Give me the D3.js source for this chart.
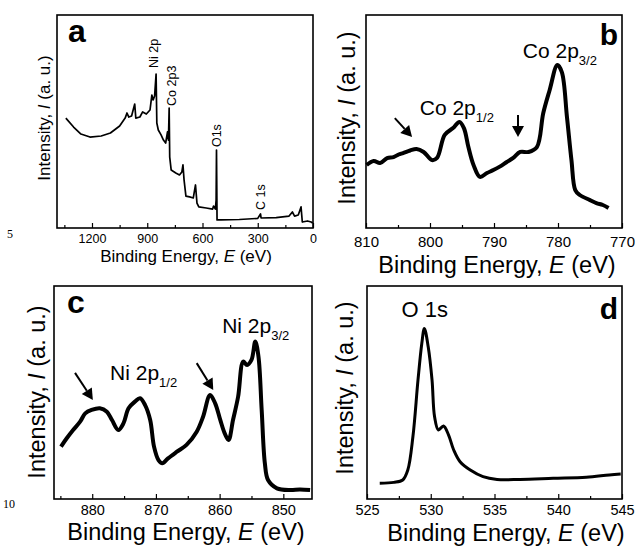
<!DOCTYPE html>
<html>
<head>
<meta charset="utf-8">
<script src="https://cdn.jsdelivr.net/npm/d3@7"></script>
<style>
  body { margin: 0; background: #fff; }
  svg { display: block; font-family: "Liberation Sans", Arial, sans-serif; }
</style>
</head>
<body>
<div id="fig"></div>
<script>
// ---- data (binding energy in eV, intensity in arb. units 0-100) ----
var surveyE = [1342,1300,1260,1211,1150,1100,1050,1020,1010,1000,985,968,962,940,925,905,885,875,868,860,852,848,840,825,812,800,790,785,781,778,770,745,725,712,706,700,690,670,650,638,630,620,580,545,540,530,526,524,521,500,400,300,285,282,200,130,112,100,80,65,58,30,10,2];
var surveyI = [51.6,47.4,44.1,42.7,43.2,44.6,47.9,51.6,54,52.1,52.6,58.2,51.6,52.1,54.5,53.5,55.4,62.4,60.1,62,72.3,49.3,46,43.7,41.3,39.9,45.1,41.3,56.3,33.3,27.2,25.8,24.9,26.3,29.6,22.5,15,14.6,14.1,20.2,11.7,9.9,9.4,8.9,10.3,8.9,13.1,36.6,3.8,3.8,4,4.5,6.6,4.7,4.9,5.6,7.5,5.6,6.1,9.9,2.8,3.3,2.8,2.3];

var coE = [809.9,808.8,807.8,806.7,805.7,804.9,804.2,803.1,802.1,801.0,799.7,798.9,797.7,796.4,795.4,794.7,794.0,793.2,792.2,791.1,790.1,789.1,788.0,787.0,785.9,784.6,783.3,782.3,781.3,780.1,779.4,778.6,777.9,777.3,776.6,775.0,774.0,773.0,772.1];
var coI = [29.6,31.5,30.5,32.8,33.3,34.5,35.2,36.4,37.1,35.7,31.9,32.9,43.7,46.9,49.8,46.9,38,29.6,24,25.8,27.2,28.8,31,32.9,35.7,35.7,38,54,64.8,76.5,73.2,52.1,31.9,17.8,15.5,13.1,11.7,10.8,9.4];

var niE = [884.9,884.0,883.0,881.9,881.1,880.1,878.8,877.7,876.9,875.9,875.1,874.3,873.3,872.5,871.7,870.9,870.3,869.6,869.0,868.1,866.7,865.2,863.6,862.6,861.5,860.7,859.9,859.2,858.6,857.9,857.1,856.3,855.7,855.0,854.4,853.9,853.4,852.9,852.4,851.0,848.9,847.4,845.8];
var niI = [24.6,28.5,32.4,36.3,40.2,41.8,42.6,41,37.1,32.4,35.5,42.6,45.7,47.3,44.1,37.1,24.6,18.3,16.8,19.1,22.2,25.4,31.6,38.6,48.8,44.9,37.1,30.8,27.7,37.1,48,64.5,62.9,65.3,73.9,66.8,41.8,16.8,8.9,5,4.2,4.5,4.2];

var oE = [526.0,527.1,527.8,528.2,528.6,529.0,529.3,529.5,529.8,530.1,530.3,530.6,531.0,531.4,531.8,532.3,533.1,534.1,535.2,537.0,539.6,542.2,544.0,544.9];
var oI = [7.4,7.8,8.9,13.6,29.2,55.9,73.1,80.1,71.5,55.9,38.6,32.4,34.3,30,23,17.5,13.6,10.5,9.2,9.2,9.7,10.2,11.3,11.7];

var surveyTicks = [1200,900,600,300,0];
var coTicks = [810,800,790,780,770];
var niTicks = [880,870,860,850];
var oTicks = [525,530,535,540,545];

var W = 635, H = 546;
var svg = d3.select("#fig").append("svg").attr("width", W).attr("height", H);

function drawPanel(p) {
  var x = d3.scaleLinear().domain(p.xDomain).range([p.left, p.right]);
  var y = d3.scaleLinear().domain([0, 100]).range([p.bottom, p.top]);
  var g = svg.append("g");

  // inward ticks, major + minor
  g.append("g")
    .attr("transform", "translate(0," + p.bottom + ")")
    .call(d3.axisBottom(x).tickValues(p.minor).tickSize(-3).tickFormat(""))
    .call(function(a){ a.select(".domain").remove(); a.selectAll("line").attr("stroke-width", 1.2); });
  var ax = g.append("g")
    .attr("transform", "translate(0," + p.bottom + ")")
    .call(d3.axisBottom(x).tickValues(p.ticks).tickSize(-5).tickPadding(p.pad).tickFormat(d3.format("d")));
  ax.select(".domain").remove();
  ax.selectAll("line").attr("stroke-width", 1.2);
  ax.selectAll("text").attr("font-size", p.tickFs).attr("font-family", "Liberation Sans, Arial, sans-serif").attr("fill", "#000");

  // curve
  var pts = p.E.map(function(e, i){ return [e, p.I[i]]; });
  g.append("path")
    .datum(pts)
    .attr("fill", "none")
    .attr("stroke", "#000")
    .attr("stroke-width", p.lw)
    .attr("stroke-linejoin", "round")
    .attr("d", d3.line().curve(p.smooth ? d3.curveCatmullRom.alpha(0.5) : d3.curveLinear)
      .x(function(d){ return x(d[0]); }).y(function(d){ return y(d[1]); }));

  // frame
  g.append("rect")
    .attr("x", p.left).attr("y", p.top)
    .attr("width", p.right - p.left).attr("height", p.bottom - p.top)
    .attr("fill", "none").attr("stroke", "#000").attr("stroke-width", 1.6);

  // axis titles
  var xt = g.append("text")
    .attr("x", p.xtX).attr("y", p.xtY)
    .attr("text-anchor", "middle").attr("font-size", p.titleFs);
  xt.append("tspan").text("Binding Energy, ");
  xt.append("tspan").attr("font-style", "italic").text("E");
  xt.append("tspan").text(" (eV)");

  var yt = g.append("text")
    .attr("transform", "translate(" + p.ytX + "," + p.ytY + ") rotate(-90)")
    .attr("text-anchor", "middle").attr("font-size", p.titleFs);
  yt.append("tspan").text("Intensity, ");
  yt.append("tspan").attr("font-style", "italic").text("I");
  yt.append("tspan").text(" (a. u.)");

  // panel letter
  g.append("text")
    .attr("x", p.letter[0]).attr("y", p.letter[1])
    .attr("text-anchor", p.letter[2])
    .attr("font-size", p.letter[3]).attr("font-weight", "bold")
    .text(p.name);

  // peak labels
  (p.labels || []).forEach(function(l){
    var t = g.append("text")
      .attr("font-size", l.fs)
      .attr("transform", "translate(" + x(l.e) + "," + y(l.v) + ")" + (l.rot ? " rotate(-90)" : ""));
    t.append("tspan").text(l.text);
    if (l.sub) t.append("tspan").attr("font-size", l.fs * 0.62).attr("dy", l.fs * 0.35).text(l.sub);
  });

  // arrows
  (p.arrows || []).forEach(function(a){
    var x0 = x(a[0]), y0 = y(a[1]), x1 = x(a[2]), y1 = y(a[3]);
    var ang = Math.atan2(y1 - y0, x1 - x0), hl = 11, hw = 6;
    var bx = x1 - hl * Math.cos(ang), by = y1 - hl * Math.sin(ang);
    g.append("line").attr("x1", x0).attr("y1", y0).attr("x2", bx).attr("y2", by)
      .attr("stroke", "#000").attr("stroke-width", 2);
    g.append("path")
      .attr("d", "M" + x1 + "," + y1 +
        "L" + (bx + hw * Math.sin(ang)) + "," + (by - hw * Math.cos(ang)) +
        "L" + (bx - hw * Math.sin(ang)) + "," + (by + hw * Math.cos(ang)) + "Z")
      .attr("fill", "#000");
  });
}

drawPanel({
  name: "a", E: surveyE, I: surveyI, xDomain: [1390, 0],
  left: 57, right: 313, top: 15, bottom: 228,
  ticks: surveyTicks, minor: [1350,1050,750,450,150], pad: 6.5, tickFs: 12.5,
  lw: 1.7, titleFs: 17, xtX: 186, xtY: 262, ytX: 50, ytY: 118,
  letter: [68, 42, "start", 32],
  labels: [
    {text: "Ni 2p", e: 839, v: 75.1, fs: 12.5, rot: true},
    {text: "Co 2p3", e: 744, v: 57.3, fs: 12.5, rot: true},
    {text: "O1s", e: 500, v: 38, fs: 12.5, rot: true},
    {text: "C 1s", e: 261, v: 8.5, fs: 12.5, rot: true}
  ]
});

drawPanel({
  name: "b", E: coE, I: coI, xDomain: [810, 770], smooth: true,
  left: 366, right: 622, top: 15, bottom: 228,
  ticks: coTicks, minor: [805,795,785,775], pad: 8.4, tickFs: 15,
  lw: 4, titleFs: 23.5, xtX: 497, xtY: 273, ytX: 355, ytY: 118,
  letter: [618, 45, "end", 30],
  labels: [
    {text: "Co 2p", sub: "1/2", e: 801.6, v: 53, fs: 21},
    {text: "Co 2p", sub: "3/2", e: 785.5, v: 79.8, fs: 21}
  ],
  arrows: [[805.5, 51.6, 802.8, 42.7], [786.25, 53, 786.25, 42.7]]
});

drawPanel({
  name: "c", E: niE, I: niI, xDomain: [886, 845.5], smooth: true,
  left: 54, right: 312, top: 286, bottom: 499,
  ticks: niTicks, minor: [885,875,865,855], pad: 6, tickFs: 14.5,
  lw: 4, titleFs: 23.5, xtX: 186, xtY: 539.5, ytX: 45, ytY: 392,
  letter: [67, 313, "start", 32],
  labels: [
    {text: "Ni 2p", sub: "1/2", e: 877.2, v: 55.9, fs: 21},
    {text: "Ni 2p", sub: "3/2", e: 859.6, v: 77.9, fs: 21}
  ],
  arrows: [[882.7, 59.2, 879.9, 46.5], [863.6, 63.8, 861.0, 51.2]]
});

drawPanel({
  name: "d", E: oE, I: oI, xDomain: [525, 545], smooth: true,
  left: 367, right: 622, top: 286, bottom: 499,
  ticks: oTicks, minor: [527.5,532.5,537.5,542.5], pad: 6, tickFs: 14.5,
  lw: 3, titleFs: 23.5, xtX: 506, xtY: 541, ytX: 353, ytY: 388,
  letter: [618, 319, "end", 30],
  labels: [
    {text: "O 1s", e: 527.7, v: 85.4, fs: 22}
  ]
});

// manuscript line numbers at the left margin
svg.append("text").attr("x", 7).attr("y", 238).attr("fill", "#000").attr("font-family", "Liberation Serif, serif").attr("font-size", 12).text("5");
svg.append("text").attr("x", 3).attr("y", 508).attr("fill", "#000").attr("font-family", "Liberation Serif, serif").attr("font-size", 12).text("10");
</script>
</body>
</html>
